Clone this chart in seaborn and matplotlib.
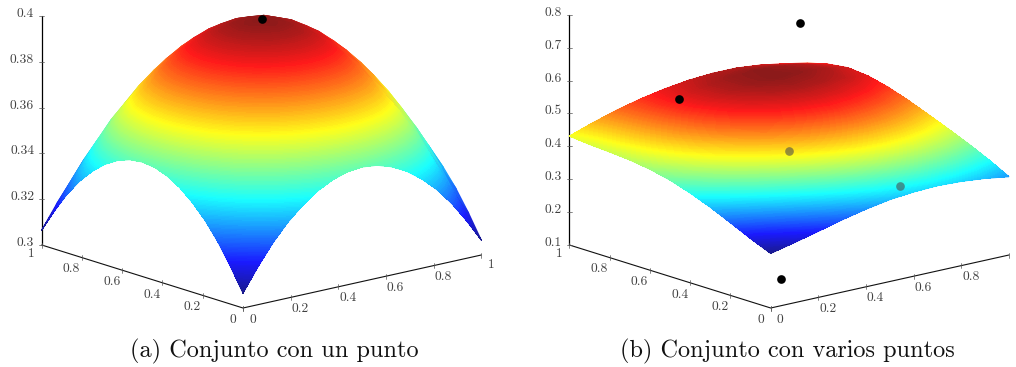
import numpy as np
import seaborn as sns
import matplotlib.pyplot as plt
from matplotlib.tri import Triangulation

# heights estimated from the outlines and colour bands of the reference
# left surface is symmetric, only the quarter from the (0,0) corner to the peak is listed
z_left_quarter = np.array([
    [.3065, .3165, .3255, .3330, .3390, .3438, .3472, .3493, .3500],
    [.3165, .3269, .3362, .3440, .3503, .3553, .3588, .3610, .3617],
    [.3255, .3362, .3459, .3540, .3604, .3656, .3692, .3715, .3722],
    [.3330, .3440, .3540, .3622, .3689, .3742, .3779, .3802, .3810],
    [.3390, .3503, .3604, .3689, .3756, .3810, .3849, .3872, .3880],
    [.3438, .3553, .3656, .3742, .3810, .3865, .3904, .3928, .3936],
    [.3472, .3588, .3692, .3779, .3849, .3904, .3944, .3968, .3976],
    [.3493, .3610, .3715, .3802, .3872, .3928, .3968, .3993, .4001],
    [.3500, .3617, .3722, .3810, .3880, .3936, .3976, .4001, .4009]])
z_left_half = np.hstack([z_left_quarter, z_left_quarter[:, -2::-1]])
z_left = np.vstack([z_left_half, z_left_half[-2::-1]])
grid_left = np.linspace(0, 1, 17)

z_right = np.array([
    [.266, .292, .321, .349, .373, .393, .407, .416, .421, .425, .431],
    [.283, .310, .340, .369, .394, .415, .431, .441, .448, .452, .456],
    [.301, .330, .360, .389, .415, .437, .453, .465, .472, .476, .478],
    [.320, .349, .379, .408, .434, .456, .474, .486, .494, .497, .496],
    [.336, .366, .396, .425, .451, .473, .491, .504, .512, .514, .510],
    [.349, .379, .409, .437, .463, .485, .504, .517, .525, .526, .520],
    [.356, .387, .417, .445, .470, .493, .512, .526, .534, .534, .525],
    [.359, .390, .419, .447, .473, .496, .515, .530, .538, .537, .525],
    [.356, .388, .417, .444, .470, .493, .513, .528, .536, .533, .518],
    [.349, .381, .410, .437, .462, .486, .506, .522, .529, .524, .506],
    [.338, .370, .399, .425, .450, .474, .495, .510, .516, .508, .492]])
grid_right = np.linspace(0, 1, 11)

floor_ticks = [0, .2, .4, .6, .8, 1]
floor_labels = ['0', '0.2', '0.4', '0.6', '0.8', '1']
z_ticks_left = [.3, .32, .34, .36, .38, .4]
z_labels_left = ['0.3', '0.32', '0.34', '0.36', '0.38', '0.4']
z_ticks_right = [.1, .2, .3, .4, .5, .6, .7, .8]
z_labels_right = ['0.1', '0.2', '0.3', '0.4', '0.5', '0.6', '0.7', '0.8']

points_left = [(.502, .5, .4009)]
points_right = [(.293, .8, .535), (.6, .565, .761), (.1, .069, .159), (.5, .5, .401), (.7, .186, .322)]
colors_left = ['black']
colors_right = ['black', 'black', 'black', '#4d4d4d99', '#4d4d4d99']

jet_colors = ['#1a1a8c', '#1a1aff', '#1a8cff', '#1affff', '#8cff8c', '#ffff1a', '#ff8c1a', '#ff1a1a', '#8c1a1a']
jet = sns.blend_palette(jet_colors, as_cmap=True)

sns.set_theme(style='white')
plt.rcParams['font.family'] = ['cmr10', 'DejaVu Sans']
plt.rcParams['axes.formatter.use_mathtext'] = True

fig = plt.figure(figsize=(10.16, 3.67), dpi=100)
ax = fig.add_axes([0, 0, 1, 1])
ax.set_xlim(0, 1016)
ax.set_ylim(367, 0)
ax.axis('off')


def project(x, y, z, origin, zscale, zbase):
    x, y, z = np.broadcast_arrays(x, y, z)
    sx = origin[0] + 238.3 * x - 201.3 * y
    sy = origin[1] - 53 * x - 63 * y - zscale * (z - zbase)
    return sx, sy


def draw_panel(grid, z, origin, zscale, zticks, zlabels, points, colors, caption, cap_x, last_label=True):
    zbase = zticks[0]
    to_px = lambda a, b, c: project(a, b, c, origin, zscale, zbase)

    # floor and height axes
    ends = [to_px(0, 1, zbase), to_px(0, 0, zbase), to_px(1, 0, zbase)]
    ax.plot([e[0] for e in ends], [e[1] for e in ends], color='#111111', lw=.8, zorder=1)
    sx, sy = to_px(0, 1, np.array([zticks[0], zticks[-1]]))
    ax.plot(sx, sy, color='black', lw=.9, zorder=1)

    for t, lab in zip(zticks, zlabels):
        sx, sy = to_px(0, 1, t)
        ax.plot([sx - 2.5, sx + 2.5], [sy, sy], color='#555555', lw=.5, zorder=1)
        ax.text(sx - 7.5, sy - 2, lab, ha='right', va='center', fontsize=9.7, color='#404040')

    for t, lab in zip(floor_ticks, floor_labels):
        sx, sy = to_px(0, t, zbase)
        ax.plot([sx, sx], [sy - 2.5, sy + 2.5], color='#555555', lw=.5, zorder=1)
        dy = 8.6 if lab == '1' else 11.7
        ax.text(sx - 10.3, sy + dy, lab, ha='center', va='center', fontsize=9.7, color='#404040')

        sx, sy = to_px(t, 0, zbase)
        ax.plot([sx, sx], [sy - 2.5, sy + 2.5], color='#555555', lw=.5, zorder=1)
        if lab == '1' and not last_label:
            continue
        dy = 10.2 if lab == '1' else 11.6
        ax.text(sx + 9.6, sy + dy, lab, ha='center', va='center', fontsize=9.7, color='#404040')

    # far corner first, so nearer cells cover what they hide
    X, Y = np.meshgrid(grid, grid, indexing='ij')
    sx, sy = to_px(X, Y, z)
    ax.pcolormesh(sx[::-1, ::-1], sy[::-1, ::-1], z[::-1, ::-1], shading='gouraud', cmap=jet, zorder=2)

    # front half again as filled contours, gouraud loses the yellow band between cells
    n = len(grid)
    tris = []
    for i in range(n - 1):
        for j in range(n - 1):
            tris.append([i * n + j, (i + 1) * n + j, i * n + j + 1])
            tris.append([(i + 1) * n + j, (i + 1) * n + j + 1, i * n + j + 1])
    tris = np.array(tris)
    back = (X + Y).ravel()[tris].mean(axis=1) > 1
    if zbase == z_ticks_left[0]:
        mesh = Triangulation(sx.ravel(), sy.ravel(), tris, mask=back)
    else:
        mesh = Triangulation(sx.ravel(), sy.ravel(), tris)
    ax.tricontourf(mesh, z.ravel(), levels=np.linspace(z.min(), z.max(), 200), cmap=jet,
                   extend='both', antialiased=False, zorder=2.5)

    for (a, b, c), color in zip(points, colors):
        sx, sy = to_px(a, b, c)
        ax.scatter(sx, sy, s=39, color=color, linewidths=0, zorder=3)

    ax.text(cap_x, 357, caption, ha='center', va='baseline', fontsize=17.5, color='#111111')


draw_panel(grid_left, z_left, (243, 308), 2290, z_ticks_left, z_labels_left, points_left, colors_left,
           '(a) Conjunto con un punto', 274.5)
draw_panel(grid_right, z_right, (770.7, 308), 329, z_ticks_right, z_labels_right, points_right, colors_right,
           '(b) Conjunto con varios puntos', 787, last_label=False)

fig.savefig('out.png', dpi=100)
